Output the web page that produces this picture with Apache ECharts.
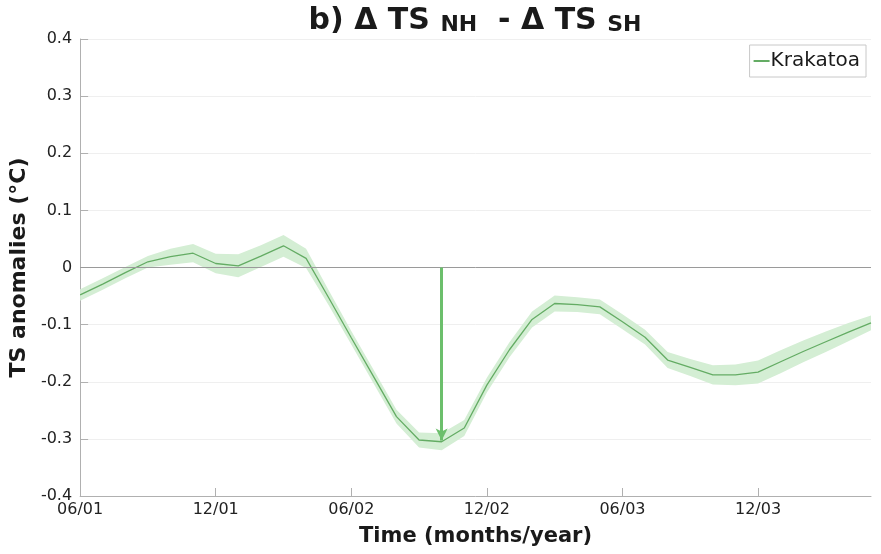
<!DOCTYPE html>
<html><head><meta charset="utf-8">
<script src="https://cdn.jsdelivr.net/npm/echarts@6/dist/echarts.min.js"></script>
<style>html,body{margin:0;padding:0;background:#fff}#c{width:881px;height:554px}</style>
</head><body><div id="c"></div>
<script>
// month index since 06/01
const months = [0,1,2,3,4,5,6,7,8,9,10,11,12,13,14,15,16,17,18,19,20,21,22,23,24,25,26,27,28,29,30,31,32,33,34,35];
const krakatoa = [-0.048,-0.029,-0.009,0.010,0.019,0.025,0.007,0.003,0.020,0.038,0.016,-0.053,-0.123,-0.192,-0.261,-0.302,-0.305,-0.281,-0.206,-0.144,-0.091,-0.063,-0.065,-0.069,-0.095,-0.122,-0.162,-0.175,-0.188,-0.188,-0.183,-0.165,-0.147,-0.130,-0.113,-0.097];
const bandLower = [-0.058,-0.039,-0.019,0.000,0.005,0.009,-0.010,-0.017,0.001,0.019,-0.001,-0.066,-0.135,-0.204,-0.273,-0.315,-0.320,-0.295,-0.219,-0.157,-0.105,-0.077,-0.078,-0.082,-0.108,-0.135,-0.176,-0.190,-0.205,-0.206,-0.203,-0.185,-0.166,-0.148,-0.129,-0.110];
const bandUpper = [-0.038,-0.019,0.001,0.020,0.033,0.041,0.024,0.023,0.039,0.057,0.033,-0.040,-0.111,-0.180,-0.249,-0.289,-0.290,-0.267,-0.193,-0.131,-0.077,-0.049,-0.052,-0.056,-0.082,-0.109,-0.148,-0.160,-0.171,-0.170,-0.163,-0.145,-0.128,-0.112,-0.097,-0.084];
const tickValues = [0,6,12,18,24,30];
const tickLabels = ['06/01','12/01','06/02','12/02','06/03','12/03'];
const arrowMonth = 16;
const arrowStart = 0;
const arrowEnd = -0.303;

const FONT = 'DejaVu Sans';
const chart = echarts.init(document.getElementById('c'), null, {renderer:'canvas'});
const lineData = months.map((m,i)=>[m, krakatoa[i]]);

chart.setOption({
  animation:false,
  backgroundColor:'#fff',
  graphic:[{
    type:'text', x:475, y:21, z:100,
    style:{
      text:'{a|b) Δ TS }{b|NH}{a|  - Δ TS }{b|SH}',
      textAlign:'center', textVerticalAlign:'middle',
      rich:{
        a:{fontFamily:FONT, fontWeight:'bold', fontSize:30, fill:'#1a1a1a', color:'#1a1a1a', verticalAlign:'bottom'},
        b:{fontFamily:FONT, fontWeight:'bold', fontSize:22, fill:'#1a1a1a', color:'#1a1a1a', verticalAlign:'bottom'}
      }
    }
  }],
  legend:{
    data:[{name:'Krakatoa', icon:'rect'}],
    right:15, top:45,
    orient:'vertical',
    itemWidth:16, itemHeight:2, itemGap:0,
    padding:[6,6,6,4],
    borderColor:'#c8c8c8', borderWidth:1,
    backgroundColor:'#fff',
    textStyle:{fontFamily:FONT, fontSize:20, color:'#1a1a1a', padding:[0,0,0,-4]}
  },
  grid:{left:78, right:10, top:39, bottom:58, containLabel:false},
  xAxis:{
    type:'value', min:0, max:35, interval:6,
    name:'Time (months/year)', nameLocation:'middle', nameGap:30,
    nameTextStyle:{fontFamily:FONT, fontWeight:'bold', fontSize:21, color:'#1a1a1a'},
    axisLine:{show:true, onZero:false, lineStyle:{color:'#b0b0b0', width:1}},
    axisTick:{show:true, inside:true, length:8, customValues:tickValues, lineStyle:{color:'#b0b0b0'}},
    axisLabel:{customValues:tickValues, fontFamily:FONT, fontSize:16, color:'#222', margin:6,
      formatter:v=>{const i=tickValues.indexOf(v); return i>=0?tickLabels[i]:'';}},
    splitLine:{show:false}
  },
  yAxis:{
    type:'value', min:-0.4, max:0.4, interval:0.1,
    name:'TS anomalies (°C)', nameLocation:'middle', nameGap:44,
    nameTextStyle:{fontFamily:FONT, fontWeight:'bold', fontSize:22, color:'#1a1a1a'},
    axisLine:{show:true, lineStyle:{color:'#b0b0b0', width:1}},
    axisTick:{show:true, inside:true, length:8, lineStyle:{color:'#b0b0b0'}},
    axisLabel:{fontFamily:FONT, fontSize:16, color:'#222', margin:8,
      formatter:v=>{const r=Math.round(v*10)/10; return r===0?'0':String(r);}},
    splitLine:{show:true, lineStyle:{color:'#efefef', width:1}}
  },
  series:[
    {
      type:'custom', name:'band', silent:true, z:2,
      data:[[0,0]],
      renderItem:(params, api)=>{
        const pts=[];
        for(let i=0;i<months.length;i++) pts.push(api.coord([months[i], bandUpper[i]]));
        for(let i=months.length-1;i>=0;i--) pts.push(api.coord([months[i], bandLower[i]]));
        return {type:'polygon', shape:{points:pts}, style:{fill:'#d4eed4', stroke:null}};
      },
      clip:true
    },
    {
      type:'line', name:'Krakatoa', z:3,
      data:lineData, symbol:'none', showSymbol:false,
      itemStyle:{color:'#64ac64'},
      lineStyle:{color:'#64ac64', width:1.3},
      markLine:{
        silent:true, symbol:['none','none'], animation:false,
        label:{show:false},
        data:[
          {yAxis:0, lineStyle:{color:'#9a9a9a', width:1, type:'solid'}},
          [
            {coord:[arrowMonth, arrowStart], symbol:'none', lineStyle:{color:'#6cbf6c', width:3, type:'solid'}},
            {coord:[arrowMonth, arrowEnd], symbol:'arrow', symbolSize:[9,12], lineStyle:{color:'#6cbf6c', width:3, type:'solid'}}
          ]
        ]
      }
    }
  ]
});
</script>
</body></html>
